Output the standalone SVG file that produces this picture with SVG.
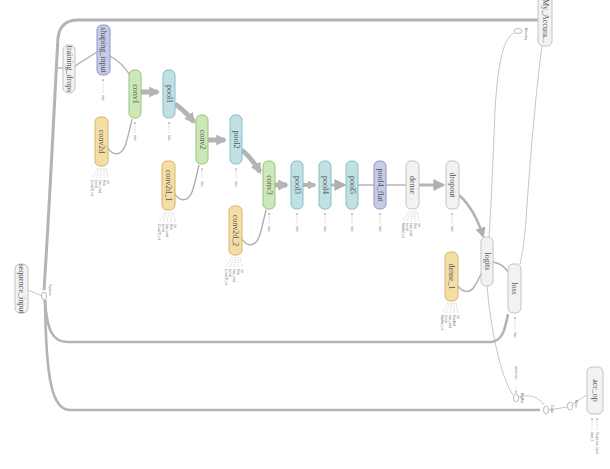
<svg xmlns="http://www.w3.org/2000/svg" width="610" height="469" viewBox="0 0 610 469">
<defs>
<style>
.n rect{stroke-width:1;}
.g rect{fill:#f2f2f2;stroke:#c4c4c4;}
.gr rect{fill:#cde8b8;stroke:#98c47c;}
.cy rect{fill:#bfe1e4;stroke:#86bfc4;}
.or rect{fill:#f4dea6;stroke:#d6b569;}
.pu rect{fill:#c5cbe9;stroke:#8f99cc;}
.n text{font-family:"Liberation Serif",serif;font-size:8px;fill:#555;text-anchor:middle;dominant-baseline:central;}
.thick{fill:none;stroke:#b4b4b4;stroke-linecap:butt;}
.thin{fill:none;stroke:#b0b0b0;stroke-width:1.4;}
.hair{fill:none;stroke:#b8b8b8;stroke-width:0.8;}
.stub{stroke:#c8c8c8;stroke-width:0.7;fill:none;stroke-dasharray:1.5 0.8;}
.t{font-family:"Liberation Sans",sans-serif;font-size:3px;fill:#777;}
.el{fill:#fff;stroke:#aaa;stroke-width:0.8;}
</style>
<marker id="ah" viewBox="0 0 10 10" refX="8" refY="5" markerWidth="2.2" markerHeight="2.2" orient="auto"><path d="M0,0 L10,5 L0,10 z" fill="#b4b4b4"/></marker>
<marker id="ah2" viewBox="0 0 10 10" refX="8" refY="5" markerWidth="4" markerHeight="4" orient="auto"><path d="M0,0 L10,5 L0,10 z" fill="#b0b0b0"/></marker>
<marker id="as" viewBox="0 0 10 10" refX="8" refY="5" markerWidth="3" markerHeight="3" orient="auto"><path d="M0,0 L10,5 L0,10 z" fill="#aaa"/></marker>
</defs>
<rect width="610" height="469" fill="#fff"/>

<g id="connectors">
<!-- big loops -->
<path class="thick" stroke-width="3" d="M44 290 C50 200 56 70 58 38 Q60 20 78 20 L545 20"/>
<path class="thick" stroke-width="2.6" d="M45 300 C47 330 52 342 68 342 L490 342 C502 342 505 330 508 314"/>
<path class="thick" stroke-width="2.6" d="M45 300 C46 380 52 410 70 410 L540 410"/>
<!-- main chain thick -->
<path class="thick" stroke-width="5" marker-end="url(#ah)" d="M141 92 L158 92"/>
<path class="thick" stroke-width="5" marker-end="url(#ah)" d="M175 104 C184 110 189 116 194 122"/>
<path class="thick" stroke-width="5" marker-end="url(#ah)" d="M208 140 L225 140"/>
<path class="thick" stroke-width="5" marker-end="url(#ah)" d="M242 150 C251 158 256 165 260 172"/>
<path class="thick" stroke-width="5" marker-end="url(#ah)" d="M275 185 L287 185"/>
<path class="thick" stroke-width="4" marker-end="url(#ah)" d="M303 185 L315 185"/>
<path class="thick" stroke-width="3" marker-end="url(#ah2)" d="M331 185 L344 185"/>
<path class="thin" stroke-width="2" d="M358 185 L374 185"/>
<path class="thin" stroke-width="2" d="M386 185 L406 185"/>
<path class="thick" stroke-width="3" marker-end="url(#ah2)" d="M419 185 L443 185"/>
<path class="thick" stroke-width="2.6" marker-end="url(#ah2)" d="M459 195 C470 205 478 220 483 236"/>
<!-- thin side inputs -->
<path class="thin" stroke-width="2" d="M75 66 L97 52"/>
<path class="thin" d="M58 68 L63 68"/>
<path class="thin" stroke-width="1.6" d="M110 56 C119 61 126 68 131 77"/>
<path class="thin" d="M108 148 C113 156 121 156 125 146 C128 138 130 128 132 119"/>
<path class="thin" d="M175 194 C180 202 188 202 192 192 C195 184 197 173 199 165"/>
<path class="thin" d="M242 239 C247 247 255 247 259 237 C262 229 264 218 266 210"/>
<path class="thin" d="M458 286 C463 293 470 293 474 287 C478 281 480 276 482 272"/>
<path class="thin" d="M493 262 C500 263 505 267 509 273"/>
<path class="hair" d="M28 290 L42 296"/>
<!-- long thin lines right -->
<path class="hair" d="M514 33 C504 38 498 60 495 110 C493 160 491 210 489 237"/>
<path class="hair" d="M542 46 C536 90 530 160 526 220 C524 245 522 255 520 264"/>
<path class="hair" d="M487 286 C491 330 500 375 513 395"/>
<path class="hair" d="M519 397 C528 394 538 396 544 405"/>
<path class="hair" d="M549 410 L567 407"/>
<path class="hair" d="M573 404 L588 394"/>
</g>

<g id="small-ops">
<ellipse class="el" cx="518" cy="31" rx="4" ry="2.5"/>
<text class="t" transform="translate(525,28) rotate(90)">Accuracy</text>
<ellipse class="el" cx="44" cy="296" rx="2.5" ry="4"/>
<text class="t" transform="translate(49,284) rotate(90)">Squeeze</text>
<path class="stub" d="M44 283 L44 290"/>
<ellipse class="el" cx="516" cy="398" rx="2.5" ry="4"/>
<text class="t" transform="translate(521,393) rotate(90)">ArgMax</text>
<ellipse class="el" cx="546" cy="410" rx="2.5" ry="4"/>
<text class="t" transform="translate(551,405) rotate(90)">Equal</text>
<ellipse class="el" cx="570" cy="406" rx="2.5" ry="4"/>
<text class="t" transform="translate(575,400) rotate(90)">Mean</text>
</g>

<g id="shaping_input" class="n pu"><rect x="97" y="25" width="13" height="50" rx="5"/><text transform="translate(103.5,50) rotate(90)">shaping_input</text></g>
<g id="training_drops" class="n g"><rect x="63" y="45" width="12" height="48" rx="5"/><text transform="translate(69,69) rotate(90)">training_drops</text></g>
<g id="conv1" class="n gr"><rect x="129" y="70" width="12" height="48" rx="5"/><text transform="translate(135,94) rotate(90)">conv1</text></g>
<g id="pool1" class="n cy"><rect x="163" y="70" width="12" height="48" rx="5"/><text transform="translate(169,94) rotate(90)">pool1</text></g>
<g id="conv2d" class="n or"><rect x="95" y="117" width="13" height="49" rx="5"/><text transform="translate(101.5,141.5) rotate(90)">conv2d</text></g>
<g id="conv2" class="n gr"><rect x="196" y="115" width="12" height="49" rx="5"/><text transform="translate(202,139.5) rotate(90)">conv2</text></g>
<g id="pool2" class="n cy"><rect x="230" y="115" width="12" height="49" rx="5"/><text transform="translate(236,139.5) rotate(90)">pool2</text></g>
<g id="conv2d_1" class="n or"><rect x="162" y="161" width="13" height="49" rx="5"/><text transform="translate(168.5,185.5) rotate(90)">conv2d_1</text></g>
<g id="conv3" class="n gr"><rect x="263" y="161" width="12" height="48" rx="5"/><text transform="translate(269,185) rotate(90)">conv3</text></g>
<g id="pool3" class="n cy"><rect x="291" y="161" width="12" height="48" rx="5"/><text transform="translate(297,185) rotate(90)">pool3</text></g>
<g id="pool4" class="n cy"><rect x="319" y="161" width="12" height="48" rx="5"/><text transform="translate(325,185) rotate(90)">pool4</text></g>
<g id="pool5" class="n cy"><rect x="346" y="161" width="12" height="48" rx="5"/><text transform="translate(352,185) rotate(90)">pool5</text></g>
<g id="pool4_flat" class="n pu"><rect x="374" y="161" width="12" height="48" rx="5"/><text transform="translate(380,185) rotate(90)">pool4_flat</text></g>
<g id="dense" class="n g"><rect x="406" y="161" width="13" height="48" rx="5"/><text transform="translate(412.5,185) rotate(90)">dense</text></g>
<g id="dropout" class="n g"><rect x="446" y="161" width="13" height="48" rx="5"/><text transform="translate(452.5,185) rotate(90)">dropout</text></g>
<g id="conv2d_2" class="n or"><rect x="229" y="206" width="13" height="49" rx="5"/><text transform="translate(235.5,230.5) rotate(90)">conv2d_2</text></g>
<g id="logits" class="n g"><rect x="481" y="237" width="12" height="49" rx="5"/><text transform="translate(487,261.5) rotate(90)">logits</text></g>
<g id="dense_1" class="n or"><rect x="445" y="252" width="13" height="49" rx="5"/><text transform="translate(451.5,276.5) rotate(90)">dense_1</text></g>
<g id="loss" class="n g"><rect x="508" y="264" width="13" height="49" rx="5"/><text transform="translate(514.5,288.5) rotate(90)">loss</text></g>
<g id="My_Accuracy" class="n g"><rect x="538" y="-4" width="14" height="50" rx="5"/><text transform="translate(545,21) rotate(90)">My_Accura...</text></g>
<g id="acc_op" class="n g"><rect x="587" y="367" width="16" height="47" rx="5"/><text transform="translate(595,390.5) rotate(90)">acc_op</text></g>
<g id="sequence_input" class="n g"><rect x="15" y="264" width="13" height="49" rx="5"/><text transform="translate(21.5,288.5) rotate(90)">sequence_input</text></g>

<g id="aux">
<path class="stub" marker-end="url(#as)" d="M103 93 L103 79"/><text class="t" transform="translate(102,95) rotate(90)">train</text>
<path class="stub" marker-end="url(#as)" d="M135 133 L135 122"/><text class="t" transform="translate(134,135) rotate(90)">train</text>
<path class="stub" marker-end="url(#as)" d="M169 133 L169 122"/><text class="t" transform="translate(168,135) rotate(90)">train</text>
<path class="stub" marker-end="url(#as)" d="M202 179 L202 168"/><text class="t" transform="translate(201,181) rotate(90)">train</text>
<path class="stub" marker-end="url(#as)" d="M236 179 L236 168"/><text class="t" transform="translate(235,181) rotate(90)">train</text>
<path class="stub" marker-end="url(#as)" d="M269 224 L269 213"/><text class="t" transform="translate(268,226) rotate(90)">train</text>
<path class="stub" marker-end="url(#as)" d="M297 224 L297 213"/><text class="t" transform="translate(296,226) rotate(90)">train</text>
<path class="stub" marker-end="url(#as)" d="M325 224 L325 213"/><text class="t" transform="translate(324,226) rotate(90)">train</text>
<path class="stub" marker-end="url(#as)" d="M352 224 L352 213"/><text class="t" transform="translate(351,226) rotate(90)">train</text>
<path class="stub" marker-end="url(#as)" d="M380 224 L380 213"/><text class="t" transform="translate(379,226) rotate(90)">train</text>
<path class="stub" marker-end="url(#as)" d="M452 224 L452 213"/><text class="t" transform="translate(451,226) rotate(90)">train</text>
<path class="stub" marker-end="url(#as)" d="M515 330 L515 317"/><text class="t" transform="translate(514,332) rotate(90)">train</text>
<path class="stub" marker-end="url(#as)" d="M516 386 L516 393"/><text class="t" transform="translate(515,366) rotate(90)">dimension</text>
<path class="stub" marker-end="url(#as)" d="M592 430 L592 418"/><text class="t" transform="translate(591,432) rotate(90)">save_1</text>
<path class="stub" marker-end="url(#as)" d="M597 430 L597 418"/><text class="t" transform="translate(596,432) rotate(90)">Sequence_input</text>
<!-- fans -->
<g id="fan_conv2d">
<path class="stub" d="M98 168 L92 178 M100 168 L96 178 M102 168 L100 178 M104 168 L104 178 M106 168 L108 178"/>
<text class="t" transform="translate(91,180) rotate(90)">Conv2D_init</text><text class="t" transform="translate(95,180) rotate(90)">kernel</text><text class="t" transform="translate(99,180) rotate(90)">bias_read</text><text class="t" transform="translate(103,180) rotate(90)">Relu</text><text class="t" transform="translate(107,180) rotate(90)">init</text>
</g>
<g id="fan_conv2d_1">
<path class="stub" d="M165 212 L159 222 M167 212 L163 222 M169 212 L167 222 M171 212 L171 222 M173 212 L175 222"/>
<text class="t" transform="translate(158,224) rotate(90)">Conv2D_init</text><text class="t" transform="translate(162,224) rotate(90)">kernel</text><text class="t" transform="translate(166,224) rotate(90)">bias_read</text><text class="t" transform="translate(170,224) rotate(90)">Relu</text><text class="t" transform="translate(174,224) rotate(90)">init</text>
</g>
<g id="fan_conv2d_2">
<path class="stub" d="M232 257 L226 267 M234 257 L230 267 M236 257 L234 267 M238 257 L238 267 M240 257 L242 267"/>
<text class="t" transform="translate(225,269) rotate(90)">Conv2D_init</text><text class="t" transform="translate(229,269) rotate(90)">kernel</text><text class="t" transform="translate(233,269) rotate(90)">bias_read</text><text class="t" transform="translate(237,269) rotate(90)">Relu</text><text class="t" transform="translate(241,269) rotate(90)">init</text>
</g>
<g id="fan_dense">
<path class="stub" d="M409 211 L403 221 M411 211 L407 221 M413 211 L411 221 M415 211 L415 221 M417 211 L419 221"/>
<text class="t" transform="translate(402,223) rotate(90)">MatMul_init</text><text class="t" transform="translate(406,223) rotate(90)">kernel</text><text class="t" transform="translate(410,223) rotate(90)">bias_read</text><text class="t" transform="translate(414,223) rotate(90)">Relu</text><text class="t" transform="translate(418,223) rotate(90)">init</text>
</g>
<g id="fan_dense_1">
<path class="stub" d="M448 303 L442 313 M450 303 L446 313 M452 303 L450 313 M454 303 L454 313 M456 303 L458 313"/>
<text class="t" transform="translate(441,315) rotate(90)">MatMul_init</text><text class="t" transform="translate(445,315) rotate(90)">kernel</text><text class="t" transform="translate(449,315) rotate(90)">bias_read</text><text class="t" transform="translate(453,315) rotate(90)">BiasAdd</text><text class="t" transform="translate(457,315) rotate(90)">init</text>
</g>
</g>
</svg>
